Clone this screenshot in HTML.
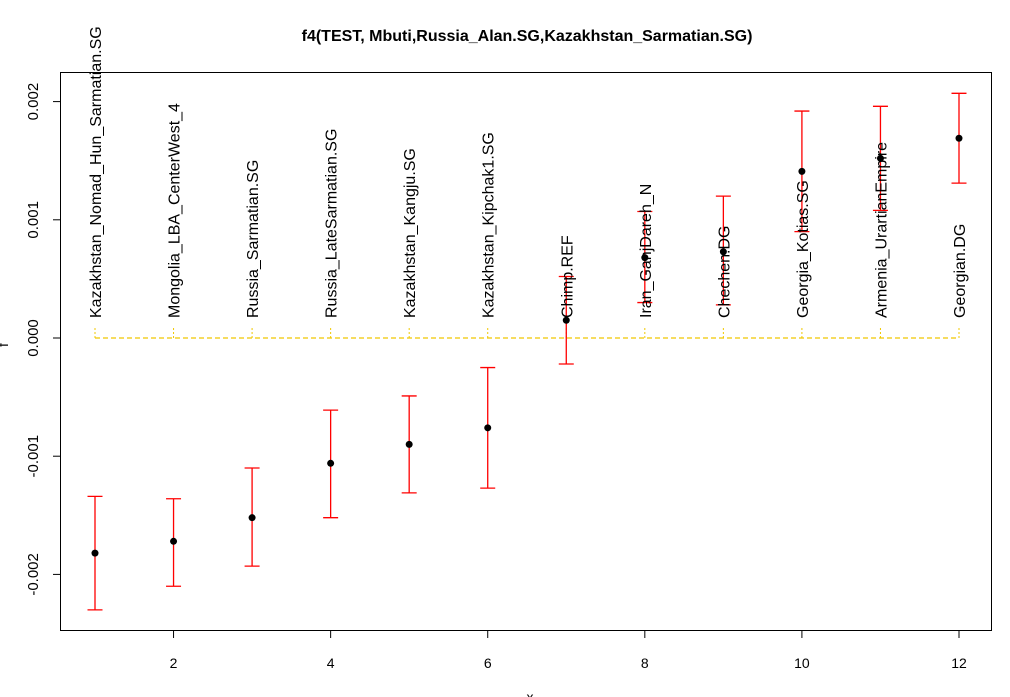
<!DOCTYPE html>
<html><head><meta charset="utf-8"><style>body{margin:0;background:#fff}svg{display:block;font-family:"Liberation Sans",Arial,sans-serif}</style></head>
<body>
<svg id="chart" width="1010" height="697" viewBox="0 0 1010 697" xmlns="http://www.w3.org/2000/svg">
<text x="527" y="41" text-anchor="middle" font-size="16" font-weight="bold">f4(TEST, Mbuti,Russia_Alan.SG,Kazakhstan_Sarmatian.SG)</text>
<rect x="60.5" y="72.5" width="931" height="558" fill="none" stroke="#000" stroke-width="1"/>
<g id="marks"></g>
<text x="8" y="345" font-size="14" transform="rotate(-90 8 345)" text-anchor="middle">f</text>
<text x="530" y="702" font-size="14" text-anchor="middle">x</text>
</svg>
<script>
const labels=["Kazakhstan_Nomad_Hun_Sarmatian.SG","Mongolia_LBA_CenterWest_4","Russia_Sarmatian.SG","Russia_LateSarmatian.SG","Kazakhstan_Kangju.SG","Kazakhstan_Kipchak1.SG","Chimp.REF","Iran_GanjDareh_N","Chechen.DG","Georgia_Kotias.SG","Armenia_UrartianEmpire","Georgian.DG"];
const estimates=[-0.00182,-0.00172,-0.00152,-0.00106,-0.00090,-0.00076,0.00015,0.00068,0.00073,0.00141,0.00152,0.00169];
const upper=[-0.00134,-0.00136,-0.00110,-0.00061,-0.00049,-0.00025,0.00052,0.00107,0.00120,0.00192,0.00196,0.00207];
const lower=[-0.00230,-0.00210,-0.00193,-0.00152,-0.00131,-0.00127,-0.00022,0.00030,0.00028,0.00090,0.00108,0.00131];
const xTicks=[2,4,6,8,10,12];
const yTicks=[-0.002,-0.001,0,0.001,0.002];
const yTickLabels=["-0.002","-0.001","0.000","0.001","0.002"];
const NS="http://www.w3.org/2000/svg";
const X=v=>95+(v-1)*(959-95)/11;
const Y=v=>338-v*118.2/0.001;
const g=document.getElementById('marks');
function mk(t,a,p){const e=document.createElementNS(NS,t);for(const k in a)e.setAttribute(k,a[k]);(p||g).appendChild(e);return e;}
xTicks.forEach(t=>{
 const l=mk('line',{x1:X(t),x2:X(t),y1:631,y2:638,stroke:'#000'});
 
 
 const tx=mk('text',{x:X(t),y:668,'font-size':14,'text-anchor':'middle'});tx.textContent=t;
 
 
});
yTicks.forEach((t,i)=>{
 const l=mk('line',{x1:53,x2:60,y1:Y(t),y2:Y(t),stroke:'#000'});
 
 
 const tx=mk('text',{x:38,y:Y(t),'font-size':15,'text-anchor':'middle',transform:`rotate(-90 38 ${Y(t)})`});tx.textContent=yTickLabels[i];
 
 
});
const zl=mk('line',{x1:X(1),x2:X(12),y1:Y(0),y2:Y(0),stroke:'#f0c800','stroke-width':1.3,'stroke-dasharray':'5,3'});


labels.forEach((lab,i)=>{
 const x=X(i+1);
 const dt=mk('line',{x1:x,x2:x,y1:Y(0),y2:Y(0)-10,stroke:'#f0c800','stroke-width':1,'stroke-dasharray':'2,2'});
 
 
 const eb=mk('path',{d:`M${x},${Y(upper[i])}V${Y(lower[i])}M${x-7.5},${Y(upper[i])}H${x+7.5}M${x-7.5},${Y(lower[i])}H${x+7.5}`,stroke:'#f00','stroke-width':1.3,fill:'none'});
 
 
 const c=mk('circle',{cx:x,cy:Y(estimates[i]),r:3.5,fill:'#000'});
 
 
 const tx=mk('text',{x:x+6,y:318,'font-size':16,transform:`rotate(-90 ${x+6} 318)`});tx.textContent=lab;
 
 
});
</script>
</body></html>
